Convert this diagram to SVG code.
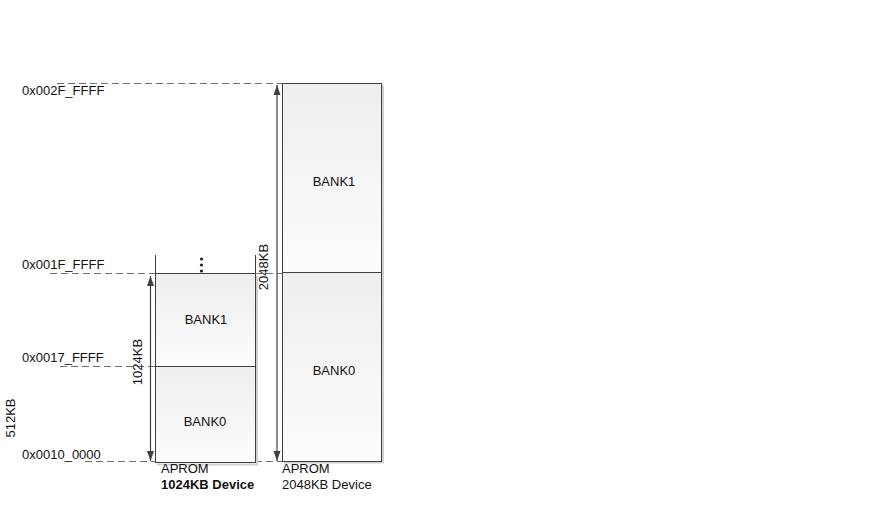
<svg xmlns="http://www.w3.org/2000/svg" width="875" height="524" viewBox="0 0 875 524">
<defs>
<linearGradient id="g" x1="0" y1="0" x2="0" y2="1">
<stop offset="0" stop-color="#eeeeee"/>
<stop offset="1" stop-color="#fcfcfc"/>
</linearGradient>
<marker id="ah" viewBox="0 0 10 10" refX="10" refY="5" markerWidth="10" markerHeight="10" markerUnits="userSpaceOnUse" orient="auto-start-reverse">
<path d="M0,1.5 L10,5 L0,8.5 Z" fill="#404040"/>
</marker>
</defs>
<style>
text{font-family:"Liberation Sans",Arial,sans-serif;font-size:13px;fill:#111}
.b{font-weight:bold}
.box{fill:url(#g);stroke:#404040;stroke-width:1}
.sh{fill:none;stroke:#d0d0d0;stroke-width:2}
.dash{stroke:#707070;stroke-width:1;stroke-dasharray:7,4;fill:none}
.ln{stroke:#404040;stroke-width:1;fill:none}
.arr{stroke:#404040;stroke-width:1.2;fill:none;marker-start:url(#ah);marker-end:url(#ah)}
</style>
<rect width="875" height="524" fill="#fff"/>
<g id="connectors">
<line class="dash" x1="57" y1="83.5" x2="282" y2="83.5"/>
<line class="dash" x1="50" y1="273.5" x2="155" y2="273.5"/>
<line class="dash" x1="255" y1="273.5" x2="282" y2="273.5"/>
<line class="dash" x1="60" y1="366.5" x2="155" y2="366.5"/>
<line class="dash" x1="85" y1="461.5" x2="155" y2="461.5"/>
<line class="dash" x1="255" y1="461.5" x2="282" y2="461.5"/>
<line class="arr" x1="150.5" y1="276" x2="150.5" y2="461"/>
<line class="arr" x1="277" y1="85" x2="277" y2="461"/>
</g>
<g id="dev2048">
<polyline class="sh" points="383,85 383,462.5 284,462.5"/>
<rect class="box" x="282.5" y="83.5" width="99" height="189"/>
<rect class="box" x="282.5" y="272.5" width="99" height="189"/>
<text x="334" y="186" text-anchor="middle">BANK1</text>
<text x="334" y="375" text-anchor="middle">BANK0</text>
<text x="282" y="473">APROM</text>
<text x="282" y="489">2048KB Device</text>
</g>
<g id="dev1024">
<line class="ln" x1="155.5" y1="255" x2="155.5" y2="274"/>
<line class="ln" x1="255.5" y1="255" x2="255.5" y2="274"/>
<polyline class="sh" points="257,276 257,464.5 157,464.5"/>
<rect class="box" x="155.5" y="273.5" width="100" height="93"/>
<rect class="box" x="155.5" y="366.5" width="100" height="96"/>
<circle cx="201.5" cy="259" r="1.6" fill="#222"/>
<circle cx="201.5" cy="265" r="1.6" fill="#222"/>
<circle cx="201.5" cy="271" r="1.6" fill="#222"/>
<text x="206" y="324" text-anchor="middle">BANK1</text>
<text x="205" y="426" text-anchor="middle">BANK0</text>
<text x="161" y="473">APROM</text>
<text class="b" x="161" y="489">1024KB Device</text>
</g>
<g id="labels">
<text x="22" y="95">0x002F_FFFF</text>
<text x="22" y="269">0x001F_FFFF</text>
<text x="22" y="362">0x0017_FFFF</text>
<text x="22" y="459">0x0010_0000</text>
<text transform="translate(142,362) rotate(-90)" text-anchor="middle">1024KB</text>
<text transform="translate(268,267) rotate(-90)" text-anchor="middle">2048KB</text>
<text transform="translate(15,418) rotate(-90)" text-anchor="middle">512KB</text>
</g>
</svg>
